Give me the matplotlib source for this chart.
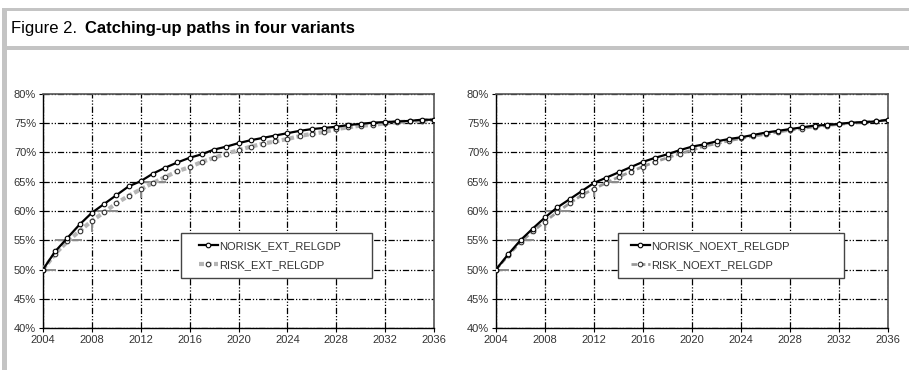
import matplotlib
matplotlib.use("Agg")
import matplotlib.pyplot as plt
from matplotlib.ticker import FuncFormatter, MultipleLocator
from matplotlib.patches import Rectangle

years = list(range(2004, 2037))

norisk_ext = [50.0, 53.1, 55.4, 57.7, 59.7, 61.2, 62.7, 64.2, 65.1, 66.4, 67.4,
              68.3, 69.1, 69.7, 70.5, 71.0, 71.6, 72.1, 72.5, 72.9, 73.3, 73.7,
              74.0, 74.2, 74.4, 74.7, 74.9, 75.1, 75.2, 75.3, 75.4, 75.6, 75.6]
risk_ext = [50.0, 52.7, 54.8, 56.6, 58.3, 59.8, 61.3, 62.6, 63.7, 64.8, 65.8,
            66.8, 67.5, 68.4, 69.1, 69.8, 70.4, 71.0, 71.5, 71.9, 72.3, 72.8,
            73.2, 73.5, 74.0, 74.3, 74.6, 74.7, 75.0, 75.2, 75.3, 75.4, 75.6]

norisk_noext = [50.0, 52.6, 55.0, 57.0, 58.9, 60.6, 62.0, 63.4, 64.8, 65.7, 66.6,
                67.5, 68.4, 69.1, 69.7, 70.4, 71.0, 71.4, 71.9, 72.3, 72.6, 73.0,
                73.4, 73.7, 74.0, 74.3, 74.6, 74.7, 74.9, 75.1, 75.2, 75.3, 75.6]
risk_noext = [50.0, 52.4, 54.7, 56.5, 58.2, 59.8, 61.3, 62.7, 63.8, 64.8, 65.8,
              66.7, 67.6, 68.4, 69.1, 69.8, 70.4, 71.1, 71.5, 72.0, 72.4, 72.8,
              73.1, 73.5, 73.8, 74.1, 74.4, 74.6, 74.8, 75.0, 75.2, 75.3, 75.6]

# Light grey range ticks of the risk series: (level, from year, to year) and (year, low, high)
ext_band_h = [(50, 2004, 2005.1), (55, 2005, 2007.2), (60, 2008, 2010.1), (65, 2012.3, 2014.1)]
ext_band_v = [(2004, 50, 53), (2008, 56.4, 58.3), (2012, 62.3, 63.8), (2016, 66.3, 67.5), (2020, 69.5, 70.4)]
noext_band_h = [(50, 2004, 2005.1), (55, 2004.9, 2007.1), (60, 2008, 2010.1), (65, 2013.2, 2014.0)]
noext_band_v = [(2004, 50, 53), (2008, 56.5, 58.3), (2012, 62.4, 63.8), (2016, 66.7, 67.7)]

x_ticks = list(range(2004, 2037, 4))
y_min, y_max, y_step = 40, 80, 5

title_num = "Figure 2."
title_text = "Catching-up paths in four variants"

W, H = 909, 370
fig = plt.figure(figsize=(W / 100, H / 100), dpi=100)
fig.patch.set_facecolor("white")

# Grey frame of the figure box
frame = "#c4c4c4"
fig.add_artist(Rectangle((2 / W, 0), 5 / W, (H - 8) / H, transform=fig.transFigure,
                         facecolor=frame, edgecolor="none"))
fig.add_artist(Rectangle((2 / W, (H - 11) / H), 1, 3 / H, transform=fig.transFigure,
                         facecolor=frame, edgecolor="none"))
fig.add_artist(Rectangle((2 / W, (H - 50) / H), 1, 4 / H, transform=fig.transFigure,
                         facecolor=frame, edgecolor="none"))

title_font = ["Liberation Sans Narrow", "Liberation Sans", "DejaVu Sans"]
t1 = fig.text(11 / W, (H - 29) / H, title_num, fontsize=12, family=title_font,
              va="center", ha="left", color="black")
fig.canvas.draw()
bb = t1.get_window_extent()
fig.text(bb.x1 / W + 8 / W, (H - 29) / H, title_text, fontsize=12, family=title_font,
         fontweight="bold", va="center", ha="left", color="black")

grid_dash = (0, (5, 1.5, 1, 1.5, 1, 1.5))
tick_font = ["Liberation Sans", "DejaVu Sans"]


def frac_rect(x0, y0, x1, y1):
    return [x0 / W, (H - y1) / H, (x1 - x0) / W, (y1 - y0) / H]


def draw_panel(rect, norisk, risk, name_a, name_b, band_h, band_v, risk_style,
               legend_box, legend_x):
    ax = fig.add_axes(frac_rect(*rect))
    ax.set_xlim(years[0], years[-1])
    ax.set_ylim(y_min, y_max)
    ax.set_xticks(x_ticks)
    ax.yaxis.set_major_locator(MultipleLocator(y_step))
    ax.yaxis.set_major_formatter(FuncFormatter(lambda v, p: f"{v:.0f}%"))
    ax.grid(True, color="black", linewidth=0.9, linestyle=grid_dash)
    ax.set_axisbelow(True)
    for side in ("left", "bottom"):
        ax.spines[side].set_color("black")
        ax.spines[side].set_linewidth(1.0)
    for side in ("top", "right"):
        ax.spines[side].set_color("#555555")
        ax.spines[side].set_linewidth(1.2)
    ax.tick_params(direction="out", length=3, width=0.8, colors="black",
                   labelsize=8, labelcolor="#333333", pad=2)
    for lab in ax.get_xticklabels() + ax.get_yticklabels():
        lab.set_family(tick_font)

    for lvl, a, b in band_h:
        ax.hlines(lvl, a, b, colors="#8c8c8c", linewidth=1.4, zorder=2)
    for yr, lo, hi in band_v:
        ax.vlines(yr, lo, hi, colors="#8c8c8c", linewidth=1.4, zorder=2)

    ax.plot(years, risk, label=name_b, marker="o", markersize=3.3,
            markerfacecolor="white", markeredgecolor="#333333", markeredgewidth=0.8,
            zorder=3, **risk_style)
    ax.plot(years, norisk, label=name_a, color="black", linewidth=1.6, marker="o",
            markersize=3.3, markerfacecolor="white", markeredgecolor="black",
            markeredgewidth=0.8, zorder=4)

    # legend box drawn as a plain rectangle, entries placed inside it
    x0, y0, x1, y1 = legend_box
    fig.add_artist(Rectangle((x0 / W, (H - y1) / H), (x1 - x0) / W, (y1 - y0) / H,
                             transform=fig.transFigure, facecolor="white",
                             edgecolor="#444444", linewidth=1.0, zorder=5))
    handles, labels = ax.get_legend_handles_labels()
    leg = fig.legend(handles[::-1], labels[::-1], loc="center left",
                     bbox_to_anchor=(legend_x / W, (H - (y0 + y1) / 2) / H),
                     bbox_transform=fig.transFigure, frameon=False,
                     handlelength=1.7, handletextpad=0.15, borderpad=0.0,
                     labelspacing=0.75, borderaxespad=0,
                     prop={"family": tick_font, "size": 8})
    leg.set_zorder(6)
    for txt in leg.get_texts():
        txt.set_color("#333333")
    return ax


draw_panel((43, 94, 434, 328), norisk_ext, risk_ext,
           "NORISK_EXT_RELGDP", "RISK_EXT_RELGDP", ext_band_h, ext_band_v,
           dict(color="#b5b5b5", linewidth=3.0, linestyle=(0, (1.2, 0.6))),
           (181, 233, 372, 278), 199)
draw_panel((496, 94, 888, 328), norisk_noext, risk_noext,
           "NORISK_NOEXT_RELGDP", "RISK_NOEXT_RELGDP", noext_band_h, noext_band_v,
           dict(color="#9a9a9a", linewidth=2.0, linestyle=(0, (2, 1))),
           (618, 233, 844, 278), 631)

fig.savefig("out.png", dpi=100, facecolor="white")
